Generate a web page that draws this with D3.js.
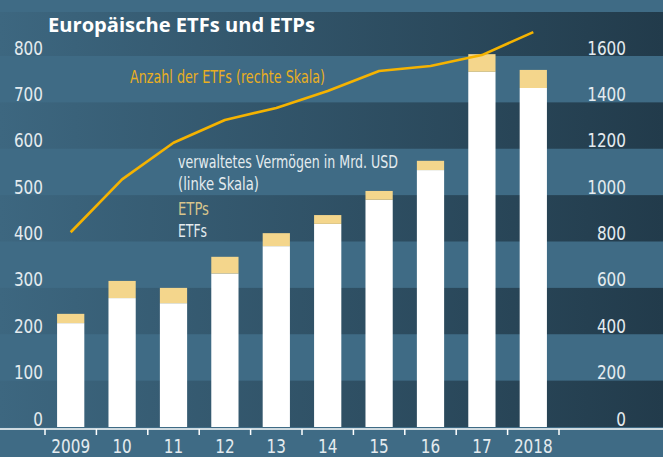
<!DOCTYPE html>
<html>
<head>
<meta charset="utf-8">
<script src="https://cdn.jsdelivr.net/npm/d3@7"></script>
<style>
  html, body { margin: 0; padding: 0; background: #3f6b85; }
  svg { display: block; }
  text { font-family: "Liberation Sans Narrow", "DejaVu Sans Condensed", "Roboto", sans-serif; }
</style>
</head>
<body>
<svg id="chart" width="663" height="457"></svg>
<script>
// Daten
const years = ["2009", "10", "11", "12", "13", "14", "15", "16", "17", "2018"];
const etfs = [224, 278, 267, 331, 390, 438, 490, 554, 766, 731];   // Mrd. USD
const etps = [20, 37, 33, 36, 28, 19, 19, 20, 38, 39];             // Mrd. USD
const anzahlEtfs = [840, 1068, 1226, 1324, 1376, 1449, 1535, 1557, 1604, 1703];
const leftTicks = [0, 100, 200, 300, 400, 500, 600, 700, 800];
const rightTicks = [0, 200, 400, 600, 800, 1000, 1200, 1400, 1600];
const darkBands = [0, 200, 400, 600, 800];

const svg = d3.select("#chart");
const W = +svg.attr("width");
const H = +svg.attr("height");
const baseY = 427;
const topY = 12;
const digitW = 9.7;   // schmale Ziffern wie im Original

// Skalen
const x = d3.scaleBand().domain(years).range([45, 559]).paddingInner(0.47).paddingOuter(0.235);
const yL = d3.scaleLinear().domain([0, 800]).range([baseY, 56]);
const yR = d3.scaleLinear().domain([0, 1600]).range([baseY, 56]);

// Hintergrund
const defs = svg.append("defs");
const grad = defs.append("linearGradient").attr("id", "darkGrad")
  .attr("gradientUnits", "userSpaceOnUse")
  .attr("x1", 0).attr("x2", W).attr("y1", 0).attr("y2", 0);
grad.append("stop").attr("offset", "0%").attr("stop-color", "#3d6780");
grad.append("stop").attr("offset", "100%").attr("stop-color", "#223b4b");

svg.append("rect").attr("width", W).attr("height", H).attr("fill", "#3f6b85");

svg.selectAll("rect.band")
  .data(darkBands)
  .enter()
  .append("rect")
  .attr("class", "band")
  .attr("x", 0)
  .attr("width", W)
  .attr("y", d => Math.max(topY, yL(d + 100)))
  .attr("height", d => yL(d) - Math.max(topY, yL(d + 100)))
  .attr("fill", "url(#darkGrad)");

// Balken: ETFs (weiß) + ETPs (gelb)
const g = svg.append("g");
g.selectAll("rect.etf")
  .data(years)
  .enter()
  .append("rect")
  .attr("x", d => x(d))
  .attr("width", x.bandwidth())
  .attr("y", (d, i) => yL(etfs[i]))
  .attr("height", (d, i) => baseY - yL(etfs[i]))
  .attr("fill", "#ffffff");

g.selectAll("rect.etp")
  .data(years)
  .enter()
  .append("rect")
  .attr("x", d => x(d))
  .attr("width", x.bandwidth())
  .attr("y", (d, i) => yL(etfs[i] + etps[i]))
  .attr("height", (d, i) => yL(etfs[i]) - yL(etfs[i] + etps[i]))
  .attr("fill", "#f4d68c");

// Linie Anzahl ETFs
const line = d3.line()
  .x((d, i) => x(years[i]) + x.bandwidth() / 2)
  .y(d => yR(d));

svg.append("path")
  .datum(anzahlEtfs)
  .attr("d", line)
  .attr("fill", "none")
  .attr("stroke", "#f5b300")
  .attr("stroke-width", 2.6)
  .attr("stroke-linejoin", "round");

// Y-Achsen (nur Beschriftung)
const axisTextColor = "#e4ebef";
const yLeft = svg.append("g").attr("transform", "translate(43,0)")
  .call(d3.axisLeft(yL).tickValues(leftTicks).tickSize(0).tickPadding(0).tickFormat(d3.format("d")));
yLeft.select(".domain").remove();
yLeft.selectAll("text")
  .attr("dy", "-0.1em")
  .attr("fill", axisTextColor)
  .style("font-size", "20px")
  .attr("textLength", d => String(d).length * digitW)
  .attr("lengthAdjust", "spacingAndGlyphs");

const yRight = svg.append("g").attr("transform", "translate(626,0)")
  .call(d3.axisLeft(yR).tickValues(rightTicks).tickSize(0).tickPadding(0).tickFormat(d3.format("d")));
yRight.select(".domain").remove();
yRight.selectAll("text")
  .attr("dy", "-0.1em")
  .attr("fill", axisTextColor)
  .style("font-size", "20px")
  .attr("textLength", d => String(d).length * digitW)
  .attr("lengthAdjust", "spacingAndGlyphs");

// X-Achse
const xAxis = svg.append("g").attr("transform", "translate(0,429)");
xAxis.append("line")
  .attr("x1", 0).attr("x2", W)
  .attr("stroke", "#ffffff").attr("stroke-width", 1.5);
const tickPos = years.map(d => x(d) - x.step() * x.paddingInner() / 2);
tickPos.push(x(years[years.length - 1]) + x.bandwidth() + x.step() * x.paddingInner() / 2);
xAxis.selectAll("line.tick")
  .data(tickPos)
  .enter()
  .append("line")
  .attr("x1", d => d).attr("x2", d => d)
  .attr("y1", 0).attr("y2", 6)
  .attr("stroke", "#ffffff").attr("stroke-width", 1.5);
xAxis.selectAll("text")
  .data(years)
  .enter()
  .append("text")
  .attr("x", d => x(d) + x.bandwidth() / 2)
  .attr("y", 24)
  .attr("text-anchor", "middle")
  .attr("fill", axisTextColor)
  .style("font-size", "19px")
  .attr("textLength", d => d.length * digitW)
  .attr("lengthAdjust", "spacingAndGlyphs")
  .text(d => d);

// Titel
svg.append("text")
  .attr("x", 48)
  .attr("y", 32)
  .attr("fill", "#ffffff")
  .style("font-family", "'Open Sans', 'DejaVu Sans', sans-serif")
  .style("font-size", "19px")
  .style("font-weight", "bold")
  .attr("textLength", 267)
  .attr("lengthAdjust", "spacingAndGlyphs")
  .text("Europäische ETFs und ETPs");

// Beschriftungen
svg.append("text")
  .attr("x", 130).attr("y", 83)
  .attr("fill", "#eaaf1f")
  .style("font-size", "18px")
  .attr("textLength", 195)
  .attr("lengthAdjust", "spacingAndGlyphs")
  .text("Anzahl der ETFs (rechte Skala)");

const legend = [
  { t: "verwaltetes Vermögen in Mrd. USD", c: "#e4ebef", y: 168, w: 220 },
  { t: "(linke Skala)", c: "#e4ebef", y: 190, w: 81 },
  { t: "ETPs", c: "#d8c58c", y: 215, w: 31 },
  { t: "ETFs", c: "#e4ebef", y: 237, w: 29 }
];
svg.selectAll("text.leg")
  .data(legend)
  .enter()
  .append("text")
  .attr("x", 178)
  .attr("y", d => d.y)
  .attr("fill", d => d.c)
  .style("font-size", "18px")
  .attr("textLength", d => d.w)
  .attr("lengthAdjust", "spacingAndGlyphs")
  .text(d => d.t);
</script>
</body>
</html>
